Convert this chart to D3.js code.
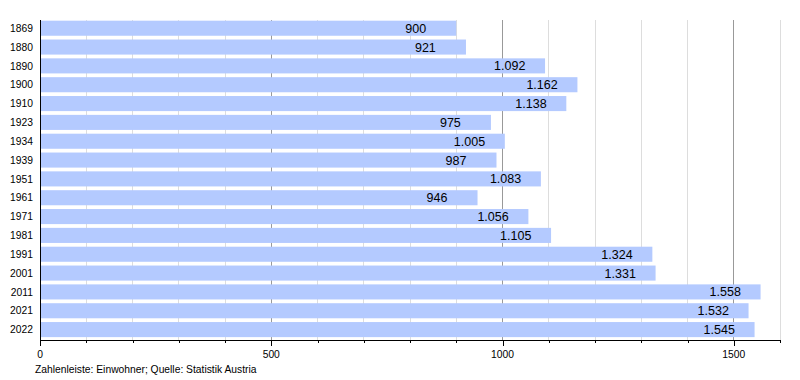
<!DOCTYPE html>
<html><head><meta charset="utf-8">
<script src="https://cdn.jsdelivr.net/npm/d3@7"></script>
<style>body{margin:0;background:#fff}svg{display:block;font-family:"Liberation Sans",Arial,sans-serif}</style>
</head><body>
<svg id="c" width="800" height="380"></svg>
<script>
const years = ["1869","1880","1890","1900","1910","1923","1934","1939","1951","1961","1971","1981","1991","2001","2011","2021","2022"];
const population = [900,921,1092,1162,1138,975,1005,987,1083,946,1056,1105,1324,1331,1558,1532,1545];
const majorTicks = [0,500,1000,1500];
const minorTicks = d3.range(100,1700,100).filter(v => v % 500 !== 0);
const footer = "Zahlenleiste: Einwohner; Quelle: Statistik Austria";

const svg = d3.select("#c");
const x = d3.scaleLinear().domain([0,1600]).range([40,780]);
const y = d3.scaleBand().domain(years).range([18.8,339]).paddingInner(0.2).paddingOuter(0.1);
const fmt = v => v >= 1000 ? d3.format(",")(v).replace(",", ".") : String(v);

// gridlines
svg.append("g").selectAll("line").data(minorTicks).join("line")
  .attr("x1", d => x(d)).attr("x2", d => x(d)).attr("y1", 20).attr("y2", 340)
  .attr("stroke", "#dddddd").attr("stroke-width", 1).attr("shape-rendering","crispEdges");
svg.append("g").selectAll("line").data(majorTicks.filter(d=>d>0)).join("line")
  .attr("x1", d => x(d)).attr("x2", d => x(d)).attr("y1", 20).attr("y2", 340)
  .attr("stroke", "#999999").attr("stroke-width", 1).attr("shape-rendering","crispEdges");

// bars
svg.append("g").selectAll("rect").data(population).join("rect")
  .attr("x", x(0)+1).attr("y", (d,i) => y(years[i]))
  .attr("width", d => x(d) - x(0) - 1).attr("height", y.bandwidth())
  .attr("fill", "#b4caff");

// value labels
svg.append("g").selectAll("text").data(population).join("text")
  .attr("x", d => x(d) - 51).attr("y", (d,i) => y(years[i]) + y.bandwidth()/2)
  .attr("dy", "0.36em").attr("font-size", 12.5).attr("fill", "#000")
  .text(d => fmt(d));

// year labels
svg.append("g").selectAll("text").data(years).join("text")
  .attr("x", 33).attr("y", d => y(d) + y.bandwidth()/2).attr("dy","0.36em")
  .attr("text-anchor","end").attr("font-size", 10.3).text(d => d);

// axes lines
svg.append("line").attr("x1", 40.5).attr("x2", 40.5).attr("y1", 20).attr("y2", 341)
  .attr("stroke","#000");
svg.append("line").attr("x1", 40).attr("x2", 780).attr("y1", 340.5).attr("y2", 340.5)
  .attr("stroke","#000");
svg.append("g").selectAll("line").data(majorTicks).join("line")
  .attr("x1", d => Math.round(x(d))+0.5).attr("x2", d => Math.round(x(d))+0.5).attr("y1", 340).attr("y2", 346)
  .attr("stroke","#000");
svg.append("g").selectAll("line").data(minorTicks).join("line")
  .attr("x1", d => Math.round(x(d))+0.5).attr("x2", d => Math.round(x(d))+0.5).attr("y1", 340).attr("y2", 343)
  .attr("stroke","#000");
svg.append("g").selectAll("text").data(majorTicks).join("text")
  .attr("x", d => x(d)).attr("y", 358).attr("text-anchor","middle")
  .attr("font-size", 10.3).text(d => d);

svg.append("text").attr("x", 35).attr("y", 373).attr("font-size", 10.3).text(footer);
</script>
</body></html>
